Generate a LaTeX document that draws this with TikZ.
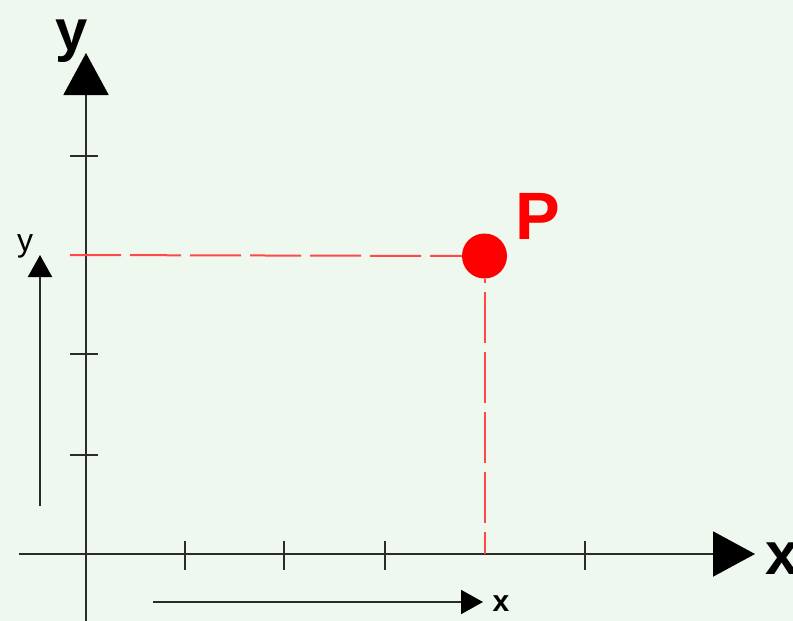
\documentclass[tikz,border=0pt]{standalone}
\usepackage{fontspec}
\setmainfont{Liberation Sans}
\usetikzlibrary{arrows.meta,positioning}
\definecolor{paper}{HTML}{EFF8EF}
\definecolor{axisgray}{HTML}{2B2B2B}
\definecolor{guidered}{HTML}{FF4848}
\definecolor{dotred}{HTML}{FF0000}

\begin{document}
\begin{tikzpicture}[x=1pt, y=-1pt,
  axis/.style={line width=2pt, color=axisgray},
  bigarr/.style={axis, -{Triangle[length=42pt,width=45pt,color=black]}},
  smallarr/.style={axis, -{Triangle[length=22pt,width=24pt,color=black]}},
  tick/.style={line width=1.6pt, color=axisgray},
  guide/.style={line width=2pt, color=guidered, dash pattern=on 51pt off 9pt},
  dot/.style={circle, fill=dotred, inner sep=0pt, minimum size=45pt},
  lbl/.style={inner sep=0pt, font=\bfseries},
]
\fill[paper] (0,0) rectangle (793,621);
\useasboundingbox (0,0) rectangle (793,621);

% axes
\coordinate (ybot) at (86,621);
\coordinate (ytop) at (86,53);
\coordinate (xleft) at (19,554);
\coordinate (xright) at (755,554);
\draw[bigarr] (ybot) -- (ytop);
\draw[bigarr] (xleft) -- (xright);
\node[lbl, font=\bfseries\fontsize{58}{58}\selectfont] (ylab) at (72,41) {y};
\node[lbl, font=\bfseries\fontsize{60}{60}\selectfont, anchor=west] (xlab) at (765,559) {x};

% ticks
\foreach \t in {185,284,385,585}
  \draw[tick] (\t,541) -- (\t,570);
\foreach \t in {156,354,455}
  \draw[tick] (70,\t) -- (98,\t);

% point P and its projections
\node[dot] (pt) at (484.5,256) {};
\node[lbl, text=dotred, font=\bfseries\fontsize{67}{67}\selectfont, above right=0pt and 15pt of pt.north east] (plab) {P};
\coordinate (ymark) at (70,255);
\coordinate (xmark) at (484.5,554);
\draw[guide] (ymark) -- (pt.west);
\draw[guide, dash phase=46.5pt] (pt.south) -- (xmark);

% direction arrows
\coordinate (ya) at (40,506);
\coordinate (yb) at (40,255);
\coordinate (xa) at (153,602);
\coordinate (xb) at (483,602);
\draw[smallarr] (ya) -- (yb);
\draw[smallarr] (xa) -- (xb);
\node[lbl, font=\fontsize{32}{32}\selectfont] (ysmall) at (25,246) {y};
\node[lbl, font=\bfseries\fontsize{30}{30}\selectfont] (xsmall) at (501,604) {x};
\end{tikzpicture}
\end{document}
